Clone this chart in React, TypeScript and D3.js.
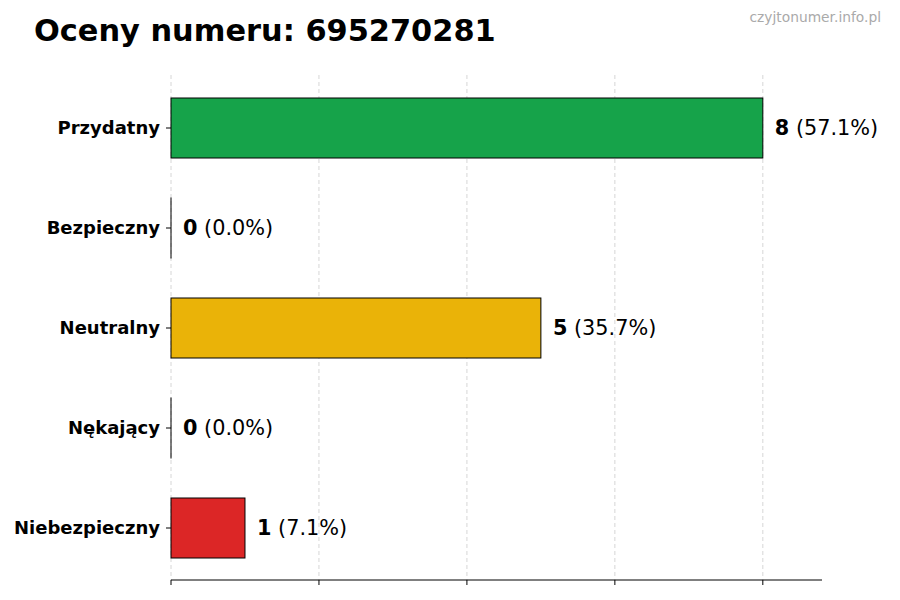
import React from "react";
import * as d3 from "d3";

const categories = ["Przydatny", "Bezpieczny", "Neutralny", "Nękający", "Niebezpieczny"];
const counts = [8, 0, 5, 0, 1];
const colors = ["#16a34a", "#8a8a8a", "#eab308", "#8a8a8a", "#dc2626"];
const xTicks = [0, 2, 4, 6, 8];
const title = "Oceny numeru: 695270281";
const watermark = "czyjtonumer.info.pl";

export default function App() {
  const W = 900, H = 600;
  const left = 171, right = 822, top = 75, bottom = 580;
  const x = d3.scaleLinear().domain([0, 8.8]).range([left, right]);
  const y = d3.scaleBand<string>().domain(categories).range([78, 578]).paddingInner(0.4).paddingOuter(0.2);
  const total = d3.sum(counts);
  const font = "DejaVu Sans, sans-serif";
  return (
    <svg width={W} height={H} style={{ position: "absolute", left: 0, top: 0, background: "#fff" }} fontFamily={font}>
      <text x={34} y={41} fontSize={30.4} fontWeight="bold" fill="#000">{title}</text>
      <text x={881} y={22} fontSize={13.8} fill="#aaa" textAnchor="end">{watermark}</text>
      {xTicks.map((t) => (
        <line key={"g" + t} x1={x(t)} x2={x(t)} y1={top} y2={bottom} stroke="#ccc" strokeWidth={0.8} strokeDasharray="4,3" />
      ))}
      {categories.map((c, i) => {
        const v = counts[i];
        const by = y(c)!;
        const bw = x(v) - x(0);
        return (
          <g key={c}>
            <rect x={x(0)} y={by} width={Math.max(bw, 0.01)} height={y.bandwidth()} fill={colors[i]} stroke="#000" strokeWidth={1} />
            <line x1={left - 5} x2={left} y1={by + y.bandwidth() / 2} y2={by + y.bandwidth() / 2} stroke="#000" strokeWidth={1} />
            <text x={left - 11} y={by + y.bandwidth() / 2} dy="0.35em" textAnchor="end" fontSize={18} fontWeight="bold" fill="#000">{c}</text>
            <text x={x(v) + 12} y={by + y.bandwidth() / 2} dy="0.35em" fontSize={20.8} fill="#000">
              <tspan fontWeight="bold">{v}</tspan>
              <tspan> ({((v / total) * 100).toFixed(1)}%)</tspan>
            </text>
          </g>
        );
      })}
      <line x1={left} x2={right} y1={bottom} y2={bottom} stroke="#000" strokeWidth={1} />
      {xTicks.map((t) => (
        <line key={"t" + t} x1={x(t)} x2={x(t)} y1={bottom} y2={bottom + 5} stroke="#000" strokeWidth={1} />
      ))}
    </svg>
  );
}
